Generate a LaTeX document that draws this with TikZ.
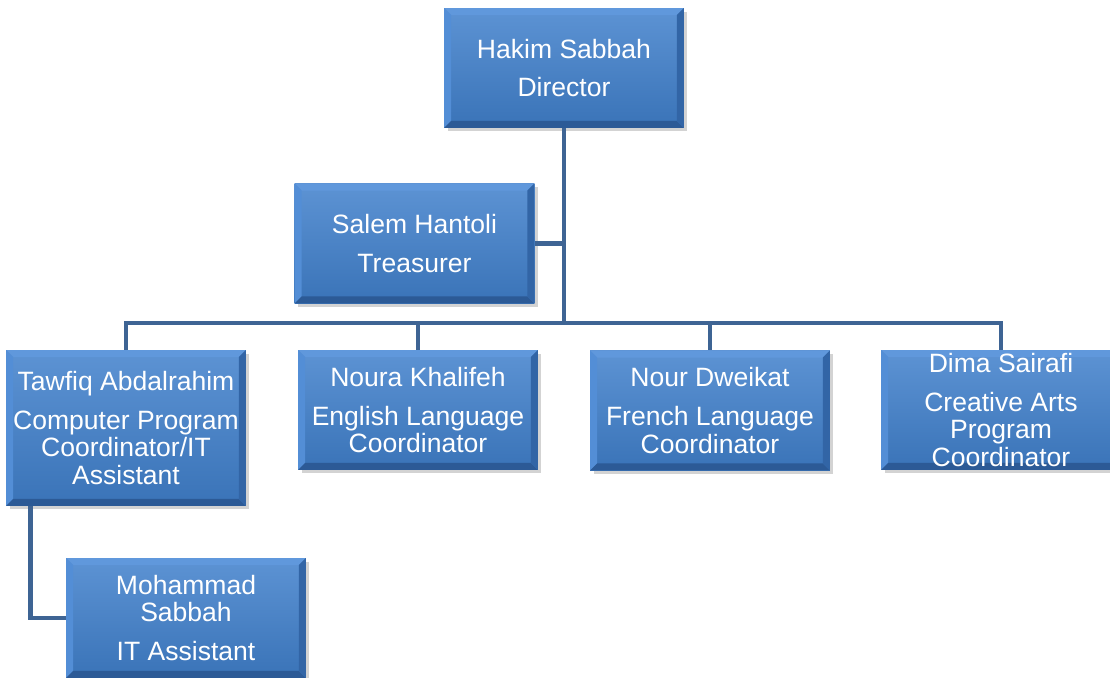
\documentclass[tikz,border=0pt]{standalone}
\usepackage{fontspec}
\setmainfont{Liberation Sans}
\usetikzlibrary{shadows}
\definecolor{boxblue}{RGB}{64,128,204}
\definecolor{boxlight}{RGB}{96,152,220}
\definecolor{boxdark}{RGB}{44,90,150}
\definecolor{linkblue}{RGB}{62,100,148}
\tikzset{bevel/.style={path picture={
	\coordinate (bvnw) at (path picture bounding box.north west);
	\coordinate (bvne) at (path picture bounding box.north east);
	\coordinate (bvsw) at (path picture bounding box.south west);
	\coordinate (bvse) at (path picture bounding box.south east);
	\fill[boxlight] (bvnw) -- (bvne) -- ([shift={(-4pt,-4pt)}]bvne) -- ([shift={(4pt,-4pt)}]bvnw) -- cycle;
	\fill[boxlight!60!boxblue] (bvnw) -- (bvsw) -- ([shift={(4pt,4pt)}]bvsw) -- ([shift={(4pt,-4pt)}]bvnw) -- cycle;
	\fill[boxdark] (bvsw) -- (bvse) -- ([shift={(-4pt,4pt)}]bvse) -- ([shift={(4pt,4pt)}]bvsw) -- cycle;
	\fill[boxdark!70!boxblue] (bvne) -- (bvse) -- ([shift={(-4pt,4pt)}]bvse) -- ([shift={(-4pt,-4pt)}]bvne) -- cycle;
}}}

\begin{document}
\begin{tikzpicture}[x=0.02cm,y=-0.02cm,
	person/.style={bevel, top color=boxblue!85!white, bottom color=boxblue!90!black,
		minimum width=4.8cm, minimum height=2.4cm, inner sep=1pt, align=center,
		text=white, font=\fontsize{15.1}{15.6}\selectfont,
		drop shadow={opacity=0.35, shadow xshift=2pt, shadow yshift=-2pt}},
	link/.style={draw=linkblue, line width=2.8pt}]
\def\gap{6.5pt}
\useasboundingbox (0,0) rectangle (1110,678);

\node[person] (dir) at (564,68) {Hakim Sabbah\\[\gap]Director};
\node[person] (treas) at (414.5,243.5) {Salem Hantoli\\[\gap]Treasurer};
\node[person, minimum height=3.12cm] (taw) at (126,428) {Tawfiq Abdalrahim\\[\gap]Computer Program\\Coordinator/IT\\Assistant};
\node[person] (noura) at (418,410) {Noura Khalifeh\\[\gap]English Language\\Coordinator};
\node[person] (nour) at (710,410.5) {Nour Dweikat\\[\gap]French Language\\Coordinator};
\node[person] (dima) at (1001,410) {Dima Sairafi\\[\gap]Creative Arts\\Program\\Coordinator};
\node[person] (moh) at (186,618) {Mohammad\\Sabbah\\[\gap]IT Assistant};

% connectors
\coordinate (bar) at (564,323);
\draw[link] (dir.south) -- (bar);
\draw[link] (treas.east) -- (treas.east -| dir.south);
\draw[link] (taw.north) |- (bar) -| (dima.north);
\foreach \n in {noura,nour}
	\draw[link] (\n.north |- bar) -- (\n.north);
\draw[link] ([xshift=0.5cm]taw.south west) |- (moh.west);
\end{tikzpicture}
\end{document}
